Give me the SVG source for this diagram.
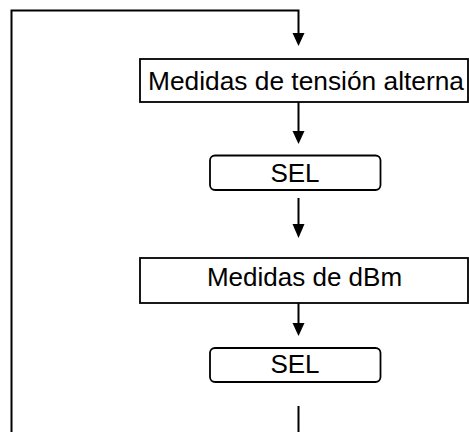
<svg xmlns="http://www.w3.org/2000/svg" width="469" height="432" viewBox="0 0 469 432">
<style>
.box{fill:#fff;stroke:#000;stroke-width:1.8}
.ln{fill:none;stroke:#000;stroke-width:2}
.ah{fill:#000}
.t{font-family:"Liberation Sans",Arial,sans-serif;font-size:26px;fill:#000;text-anchor:middle}
</style>
<rect width="469" height="432" fill="#fff"/>
<g id="connectors">
<path class="ln" d="M11.5,432 L11.5,10.5 L298.5,10.5 L298.5,34"/>
<path class="ah" d="M292.5,33 L304.5,33 L298.5,46 Z"/>
<path class="ln" d="M298.5,102 L298.5,132"/>
<path class="ah" d="M292.5,131 L304.5,131 L298.5,144 Z"/>
<path class="ln" d="M298.5,198 L298.5,225"/>
<path class="ah" d="M292.5,224 L304.5,224 L298.5,238 Z"/>
<path class="ln" d="M298.5,295 L298.5,324"/>
<path class="ah" d="M292.5,323 L304.5,323 L298.5,336 Z"/>
<path class="ln" d="M298.5,406 L298.5,432"/>
</g>
<g id="n1">
<rect class="box" x="140" y="59" width="328" height="43"/>
<text class="t" x="306" y="90" textLength="316" lengthAdjust="spacingAndGlyphs">Medidas de tensión alterna</text>
</g>
<g id="n2">
<rect class="box" x="210" y="155.5" width="170.5" height="34.5" rx="5"/>
<text class="t" x="295" y="182">SEL</text>
</g>
<g id="n3">
<rect class="box" x="140" y="258" width="328" height="45"/>
<text class="t" x="304.5" y="286">Medidas de dBm</text>
</g>
<g id="n4">
<rect class="box" x="210" y="348" width="170.5" height="34" rx="5"/>
<text class="t" x="295" y="373">SEL</text>
</g>
</svg>
